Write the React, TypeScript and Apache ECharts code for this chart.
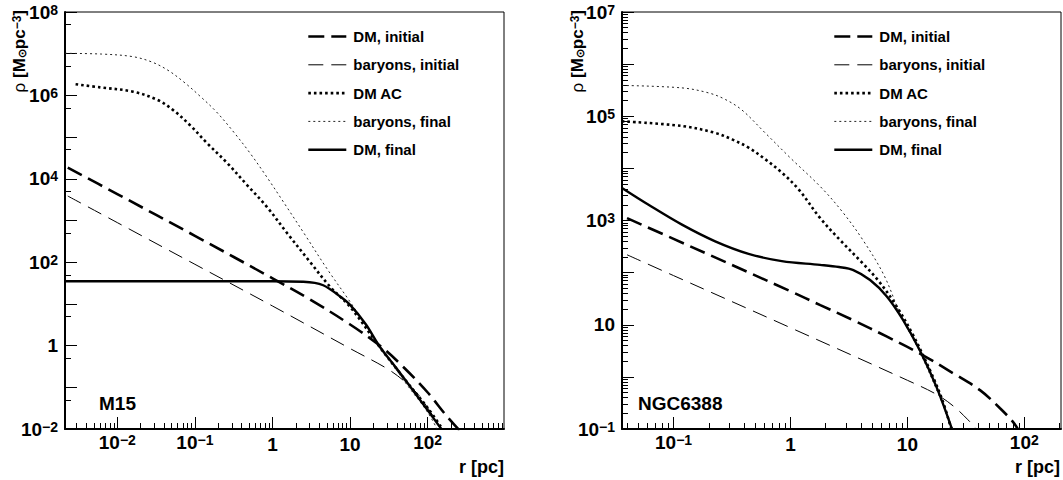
import React, { useEffect, useRef } from "react";
import * as echarts from "echarts";

const FONT = '"Liberation Sans", Arial, Helvetica, sans-serif';

const NAMES = ["DM, initial", "baryons, initial", "DM AC", "baryons, final", "DM, final"];

// ---------- M15 (left panel) : r [pc], rho [Msun pc^-3] ----------
const m15DmInitR = [0.0023, 0.01, 0.1, 1, 3, 10, 25, 50, 100, 170, 260];
const m15DmInitRho = [1.85e4, 4.3e3, 430, 41, 13, 3.2, 0.95, 0.29, 0.075, 0.022, 0.009];

const m15BarInitR = [0.0023, 0.01, 0.1, 1, 10, 30, 50, 75, 100, 125, 150];
const m15BarInitRho = [3.86e3, 890, 89, 8.9, 0.85, 0.28, 0.14, 0.068, 0.032, 0.017, 0.0089];

const m15DmAcR = [0.0029, 0.006, 0.016, 0.033, 0.052, 0.086, 0.143, 0.26, 0.47, 0.85, 1.54, 3, 5.5, 10, 24, 50, 100, 155];
const m15DmAcRho = [1.85e6, 1.56e6, 1.23e6, 7.8e5, 4.5e5, 1.95e5, 7.2e4, 2.4e4, 7.1e3, 2.1e3, 500, 105, 26, 8.5, 0.93, 0.16, 0.032, 0.01];

const m15BarFinR = [0.00212, 0.0063, 0.0158, 0.028, 0.045, 0.071, 0.117, 0.19, 0.316, 0.51, 0.84, 1.38, 2.63, 5.0, 10, 24, 50, 100, 132];
const m15BarFinRho = [1.02e7, 9.8e6, 8.5e6, 6.3e6, 4.0e6, 2.14e6, 9.5e5, 4.0e5, 1.32e5, 4.2e4, 1.12e4, 2.8e3, 450, 71, 11.2, 1.0, 0.14, 0.025, 0.01];

const m15DmFinR = [0.0021, 1, 2.5, 3.5, 4.5, 5.6, 7.1, 10, 16, 24, 40, 63, 100, 150];
const m15DmFinRho = [35, 35, 34, 32, 28, 22, 16, 9.5, 3.2, 0.95, 0.28, 0.09, 0.028, 0.01];

// ---------- NGC6388 (right panel) ----------
const ngcDmInitR = [0.04, 0.1, 1, 1.8, 3.45, 6.7, 12.8, 25, 41.8, 62, 80, 88];
const ngcDmInitRho = [1.11e3, 444, 44, 23.8, 12.2, 5.9, 2.8, 1.15, 0.556, 0.25, 0.137, 0.1];

const ngcBarInitR = [0.04, 0.1, 1, 10, 17.8, 25, 33, 39];
const ngcBarInitRho = [220, 87.7, 8.77, 0.86, 0.46, 0.27, 0.15, 0.1];

const ngcDmAcR = [0.0362, 0.118, 0.227, 0.316, 0.438, 0.607, 0.843, 1.17, 1.79, 2.66, 3.98, 5.62, 7.94, 11.2, 15.8, 20, 23.7];
const ngcDmAcRho = [8.0e4, 6.5e4, 4.8e4, 3.6e4, 2.5e4, 1.5e4, 8.3e3, 4.0e3, 1.12e3, 420, 166, 71, 24, 6.3, 1.26, 0.35, 0.1];

const ngcBarFinR = [0.0362, 0.118, 0.2, 0.277, 0.384, 0.607, 1, 1.85, 2.82, 4.18, 6.31, 8.91, 12.6, 17.8, 24.5];
const ngcBarFinRho = [3.9e5, 3.5e5, 2.8e5, 2.1e5, 1.32e5, 4.8e4, 1.58e4, 4.2e3, 1.41e3, 417, 89, 14, 3.2, 0.56, 0.1];

const ngcDmFinR = [0.0362, 0.0611, 0.118, 0.227, 0.438, 0.843, 1.79, 2.6, 3.45, 4.8, 6.67, 9.2, 12.8, 17.8, 24];
const ngcDmFinRho = [4.2e3, 2.0e3, 832, 398, 229, 166, 141, 128, 112, 72, 35, 12.3, 3.2, 0.63, 0.102];

// ---------- axis ranges (log10) and labelled decades ----------
const leftXRange = [-2.674, 2.983];
const leftYRange = [-2, 8];
const rightXRange = [-1.441, 2.314];
const rightYRange = [-1, 7];
const leftXLabels = [-2, -1, 0, 1, 2];
const leftYLabels = [-2, 0, 2, 4, 6, 8];
const rightXLabels = [-1, 0, 1, 2];
const rightYLabels = [-1, 1, 3, 5, 7];

const STY: Record<string, any> = {
  "DM, initial": { width: 2.6, type: [16, 7], color: "#000" },
  "baryons, initial": { width: 1, type: [15, 8], color: "#000" },
  "DM AC": { width: 2.6, type: [2.6, 3], color: "#000" },
  "baryons, final": { width: 1, type: [2, 3], color: "#222" },
  "DM, final": { width: 2.4, type: "solid", color: "#000" },
};

const inRange = (v: number, r: number[]) => v >= r[0] - 1e-9 && v <= r[1] + 1e-9;
const decades = (r: number[]) => {
  const out: number[] = [];
  for (let n = Math.ceil(r[0]); n <= Math.floor(r[1]); n++) out.push(n);
  return out;
};
const minors29 = (r: number[]) => {
  const out: number[] = [];
  for (let n = Math.floor(r[0]) - 1; n <= Math.ceil(r[1]); n++)
    for (let k = 2; k <= 9; k++) {
      const v = n + Math.log10(k);
      if (inRange(v, r)) out.push(v);
    }
  return out;
};
const minors5 = (r: number[]) => {
  const out: number[] = [];
  for (let n = Math.floor(r[0]) - 1; n <= Math.ceil(r[1]); n++) {
    const v = n + Math.log10(5);
    if (inRange(v, r)) out.push(v);
  }
  return out;
};

const expStr = (n: number) => (n < 0 ? "\u2212" + -n : String(n));
const labelFmt = (isX: boolean) => (v: number) => {
  const n = Math.round(v);
  const p = isX ? "px" : "p";
  if (n === 0) return `{${p}|1}`;
  if (n === 1) return `{${p}|10}`;
  return `{b|10}{s|${expStr(n)}}`;
};
const RICH = {
  b: { fontSize: 19, fontWeight: "bold", fontFamily: FONT, lineHeight: 19, verticalAlign: "bottom", color: "#000" },
  s: { fontSize: 14, fontWeight: "bold", fontFamily: FONT, lineHeight: 14, verticalAlign: "top", padding: [0, 0, 9, 0], color: "#000" },
  p: { fontSize: 19, fontWeight: "bold", fontFamily: FONT, lineHeight: 19, color: "#000" },
  px: { fontSize: 19, fontWeight: "bold", fontFamily: FONT, lineHeight: 19, padding: [4, 0, 0, 0], color: "#000" },
};

function axisPair(kind: "x" | "y", grid: number, range: number[], majors: number[], minors: number[], labels: number[]) {
  const common = {
    type: "value",
    gridIndex: grid,
    min: range[0],
    max: range[1],
    position: kind === "x" ? "bottom" : "left",
    splitLine: { show: false },
  };
  const major = {
    ...common,
    axisLine: { show: true, onZero: false, lineStyle: { color: "#000", width: 2 } },
    axisTick: { show: true, inside: true, length: 12, customValues: majors, lineStyle: { color: "#000", width: 1 } },
    axisLabel: {
      show: true,
      customValues: labels,
      formatter: labelFmt(kind === "x"),
      rich: RICH,
      margin: kind === "x" ? 4 : 7,
      color: "#000",
    },
  };
  const minor = {
    ...common,
    axisLine: { show: false, onZero: false },
    axisTick: { show: true, inside: true, length: 6, customValues: minors, lineStyle: { color: "#000", width: 1 } },
    axisLabel: { show: false },
  };
  return [major, minor];
}

const pts = (r: number[], rho: number[]) => r.map((v, i) => [Math.log10(v), Math.log10(rho[i])]);

function line(name: string, r: number[], rho: number[], axis: number) {
  const st = STY[name];
  return {
    type: "line",
    name,
    xAxisIndex: axis,
    yAxisIndex: axis,
    data: pts(r, rho),
    symbol: "none",
    showSymbol: false,
    smooth: 0.35,
    silent: true,
    itemStyle: { color: st.color },
    lineStyle: { color: st.color, width: st.width, type: st.type, cap: "butt" },
  };
}

function legend(left: number) {
  return {
    orient: "vertical",
    left,
    top: 29,
    padding: 0,
    itemWidth: 38,
    itemHeight: 14,
    itemGap: 13.3,
    selectedMode: false,
    textStyle: { fontSize: 15, fontWeight: "bold", fontFamily: FONT, color: "#000", lineHeight: 14, padding: [0, 0, 0, 2] },
    data: NAMES.map((n) => ({
      name: n,
      itemStyle: { opacity: 0, borderWidth: 0 },
      lineStyle: { color: STY[n].color, width: STY[n].width, type: STY[n].type, cap: "butt" },
    })),
  };
}

function yTitle(x: number) {
  return {
    type: "text",
    x,
    y: 10,
    rotation: Math.PI / 2,
    style: {
      text: "{r|\u03c1 }{t|[M}{o|\u2299}{t|pc}{e|\u22123}{t|]}",
      align: "right",
      verticalAlign: "middle",
      fill: "#000",
      rich: {
        r: { fontSize: 17, fontFamily: FONT, fill: "#000", lineHeight: 17 },
        t: { fontSize: 17, fontWeight: "bold", fontFamily: FONT, fill: "#000", lineHeight: 17 },
        o: { fontSize: 11, fontWeight: "bold", fontFamily: FONT, fill: "#000", lineHeight: 11, verticalAlign: "bottom", padding: [10, 0, 0, 0] },
        e: { fontSize: 12, fontWeight: "bold", fontFamily: FONT, fill: "#000", lineHeight: 12, verticalAlign: "top" },
      },
    },
  };
}

function txt(x: number, y: number, text: string, size: number, align: string) {
  return {
    type: "text",
    x,
    y,
    style: { text, fill: "#000", font: `bold ${size}px ${FONT}`, align, verticalAlign: "middle" },
  };
}

export default function App() {
  const ref = useRef<HTMLDivElement>(null);
  useEffect(() => {
    if (!ref.current) return;
    const chart = echarts.init(ref.current, undefined, { renderer: "svg" });
    const [lxM, lxm] = axisPair("x", 0, leftXRange, decades(leftXRange), minors29(leftXRange), leftXLabels);
    const [rxM, rxm] = axisPair("x", 1, rightXRange, decades(rightXRange), minors29(rightXRange), rightXLabels);
    const [lyM, lym] = axisPair("y", 0, leftYRange, decades(leftYRange), minors5(leftYRange), leftYLabels);
    const [ryM, rym] = axisPair("y", 1, rightYRange, decades(rightYRange), minors29(rightYRange), rightYLabels);
    const option: any = {
      animation: false,
      backgroundColor: "#fff",
      grid: [
        { left: 65, top: 12, width: 439, height: 417, show: true, borderColor: "#000", borderWidth: 1, outerBoundsMode: "none" },
        { left: 622, top: 12, width: 439, height: 417, show: true, borderColor: "#000", borderWidth: 1, outerBoundsMode: "none" },
      ],
      xAxis: [lxM, lxm, rxM, rxm],
      yAxis: [lyM, lym, ryM, rym],
      legend: [legend(307), legend(833)],
      series: [
        line("DM, initial", m15DmInitR, m15DmInitRho, 0),
        line("baryons, initial", m15BarInitR, m15BarInitRho, 0),
        line("DM AC", m15DmAcR, m15DmAcRho, 0),
        line("baryons, final", m15BarFinR, m15BarFinRho, 0),
        line("DM, final", m15DmFinR, m15DmFinRho, 0),
        line("DM, initial", ngcDmInitR, ngcDmInitRho, 2),
        line("baryons, initial", ngcBarInitR, ngcBarInitRho, 2),
        line("DM AC", ngcDmAcR, ngcDmAcRho, 2),
        line("baryons, final", ngcBarFinR, ngcBarFinRho, 2),
        line("DM, final", ngcDmFinR, ngcDmFinRho, 2),
      ],
      graphic: [
        yTitle(19),
        yTitle(577),
        txt(99, 403, "M15", 19, "left"),
        txt(638, 403, "NGC6388", 19, "left"),
        txt(504, 467, "r [pc]", 18, "right"),
        txt(1060, 467, "r [pc]", 18, "right"),
      ],
    };
    chart.setOption(option);
    return () => chart.dispose();
  }, []);
  return <div ref={ref} style={{ position: "absolute", left: 0, top: 0, width: 1063, height: 480 }} />;
}
